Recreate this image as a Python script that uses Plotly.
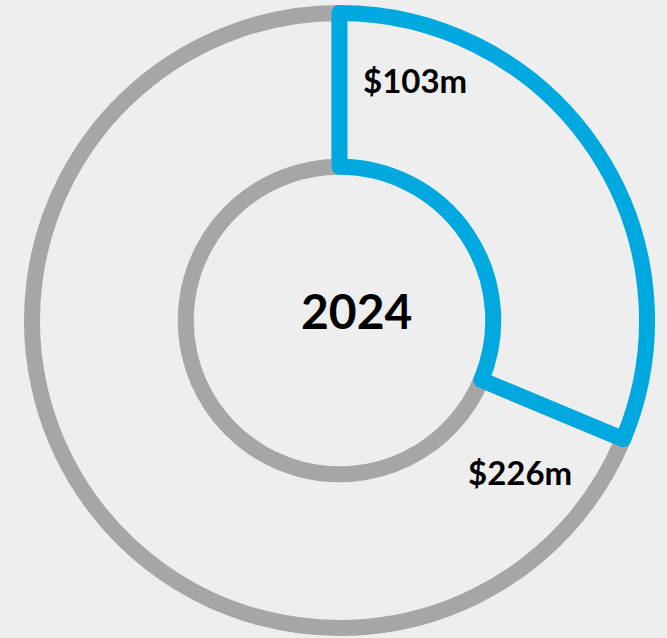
import plotly.graph_objects as go

labels = ["$226m", "$103m"]
values = [226, 103]
year = "2024"

W, H = 667, 638
BG = "#EEEEEE"
colors_line = ["#A6A6A6", "#00A8E0"]

# start the first (grey) slice where the blue one ends so blue sits at 12 o'clock
rot = values[1] / sum(values) * 360

fig = go.Figure()
fig.add_trace(go.Pie(
    labels=labels,
    values=values,
    hole=0.5,
    sort=False,
    direction="clockwise",
    rotation=rot,
    textinfo="none",
    hoverinfo="label+value",
    marker=dict(colors=[BG, BG], line=dict(color=colors_line, width=16)),
    domain=dict(x=[32 / W, 647 / W], y=[10 / H, 625 / H]),
    showlegend=False,
))

def px(x, y):
    return x / W, 1 - y / H

font_lbl = dict(family="Lato", size=33, color="#000000")
ann = []
for (x, y), t in zip([(520, 472), (415, 80)], labels):
    xx, yy = px(x, y)
    ann.append(dict(text="<b>%s</b>" % t, x=xx, y=yy, xref="paper", yref="paper",
                    xanchor="center", yanchor="middle", showarrow=False, font=font_lbl))
xx, yy = px(356, 310)
ann.append(dict(text="<b>%s</b>" % year, x=xx, y=yy, xref="paper", yref="paper",
                xanchor="center", yanchor="middle", showarrow=False,
                font=dict(family="Lato", size=48, color="#000000")))

fig.update_layout(
    width=W, height=H,
    margin=dict(l=0, r=0, t=0, b=0),
    paper_bgcolor=BG, plot_bgcolor=BG,
    annotations=ann,
)
fig.write_html(
    "out.html",
    config={"displayModeBar": False},
    post_script="document.body.style.margin='0';document.body.style.background='#EEEEEE';",
)
